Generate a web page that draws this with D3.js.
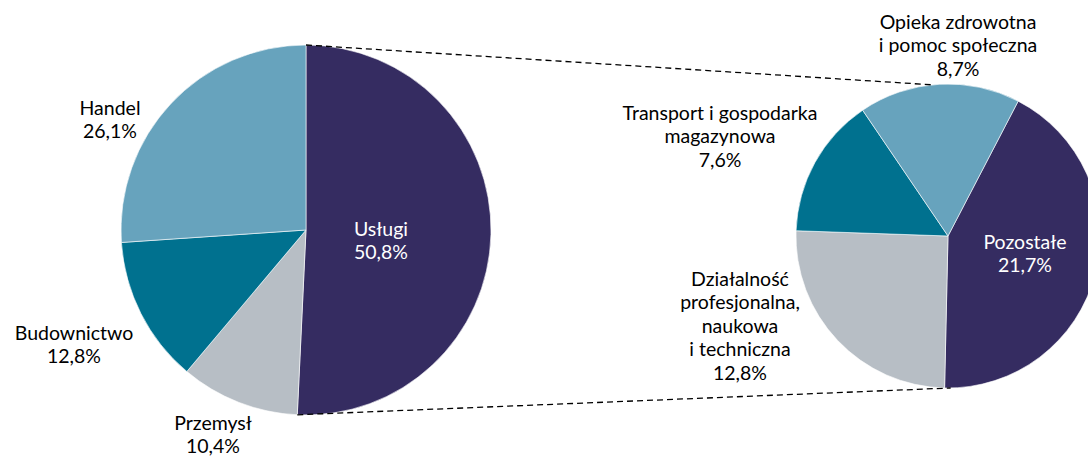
<!DOCTYPE html>
<html>
<head>
<meta charset="utf-8">
<script src="https://cdn.jsdelivr.net/npm/d3@7"></script>
<style>
  html, body { margin: 0; padding: 0; background: #fff; overflow: hidden; }
  text { font-family: Lato, "Open Sans", sans-serif; font-size: 19.5px; }
</style>
</head>
<body>
<div id="chart"></div>
<script>
// main pie (shares of total, %)
const mainCats = ['Usługi', 'Przemysł', 'Budownictwo', 'Handel'];
const mainVals = [50.8, 10.4, 12.8, 26.1];
const mainLabelLines = [['Usługi'], ['Przemysł'], ['Budownictwo'], ['Handel']];

// breakdown of "Usługi"
const subCats = ['Pozostałe', 'Działalność profesjonalna, naukowa i techniczna',
  'Transport i gospodarka magazynowa', 'Opieka zdrowotna i pomoc społeczna'];
const subVals = [21.7, 12.8, 7.6, 8.7];
const subLabelLines = [
  ['Pozostałe'],
  ['Działalność', 'profesjonalna,', 'naukowa', 'i techniczna'],
  ['Transport i gospodarka', 'magazynowa'],
  ['Opieka zdrowotna', 'i pomoc społeczna']
];

const width = 1088, height = 457;
const purple = '#352c61', lightBlue = '#67a3bd', teal = '#00718f', grey = '#b7bec5';
const mainColors = [purple, grey, teal, lightBlue];
const subColors = [purple, grey, teal, lightBlue];

const fmt = v => v.toFixed(1).replace('.', ',') + '%';
const rad = deg => deg * Math.PI / 180;

const svg = d3.select('#chart').append('svg')
  .attr('width', width)
  .attr('height', height);

// pie geometry
const p1 = { cx: 306, cy: 230, r: 185 };
const p2 = { cx: 948, cy: 236, r: 152 };

const pie1 = d3.pie().sort(null).value(d => d).startAngle(0).endAngle(2 * Math.PI);
const pie2 = d3.pie().sort(null).value(d => d).startAngle(rad(27.5)).endAngle(rad(27.5) + 2 * Math.PI);

const arc1 = d3.arc().innerRadius(0).outerRadius(p1.r);
const arc2 = d3.arc().innerRadius(0).outerRadius(p2.r);

const g1 = svg.append('g').attr('transform', `translate(${p1.cx},${p1.cy})`);
g1.selectAll('path')
  .data(pie1(mainVals))
  .enter().append('path')
  .attr('d', arc1)
  .attr('fill', (d, i) => mainColors[i])
  .attr('stroke', '#fff')
  .attr('stroke-width', 0.6);

const g2 = svg.append('g').attr('transform', `translate(${p2.cx},${p2.cy})`);
g2.selectAll('path')
  .data(pie2(subVals))
  .enter().append('path')
  .attr('d', arc2)
  .attr('fill', (d, i) => subColors[i])
  .attr('stroke', '#fff')
  .attr('stroke-width', 0.6);

// connector lines from the "Usługi" slice to the second pie
const usl = pie1(mainVals)[0];
const onCircle = (p, a) => [p.cx + p.r * Math.sin(a), p.cy - p.r * Math.cos(a)];
const connectors = [
  [onCircle(p1, usl.startAngle), onCircle(p2, rad(-6))],
  [onCircle(p1, usl.endAngle), onCircle(p2, rad(179))]
];
svg.selectAll('line.conn')
  .data(connectors)
  .enter().append('line')
  .attr('class', 'conn')
  .attr('x1', d => d[0][0]).attr('y1', d => d[0][1])
  .attr('x2', d => d[1][0]).attr('y2', d => d[1][1])
  .attr('stroke', '#000')
  .attr('stroke-width', 1.3)
  .attr('stroke-dasharray', '6,4');

// labels
const lineH = 23.5;
const mainLabelPos = [[381, 229], [213, 423], [74, 333], [110, 108]];
const subLabelPos = [[1025, 242], [740, 279], [720, 113], [958, 22]];
const mainText = ['#fff', '#000', '#000', '#000'];
const subText = ['#fff', '#000', '#000', '#000'];

function drawLabel(lines, pos, color) {
  const t = svg.append('text')
    .attr('text-anchor', 'middle')
    .attr('fill', color);
  lines.forEach((s, i) => {
    t.append('tspan')
      .attr('x', pos[0])
      .attr('y', pos[1] + i * lineH)
      .attr('dy', '0.35em')
      .text(s);
  });
}

mainVals.forEach((v, i) => drawLabel(mainLabelLines[i].concat(fmt(v)), mainLabelPos[i], mainText[i]));
subVals.forEach((v, i) => drawLabel(subLabelLines[i].concat(fmt(v)), subLabelPos[i], subText[i]));
</script>
</body>
</html>
